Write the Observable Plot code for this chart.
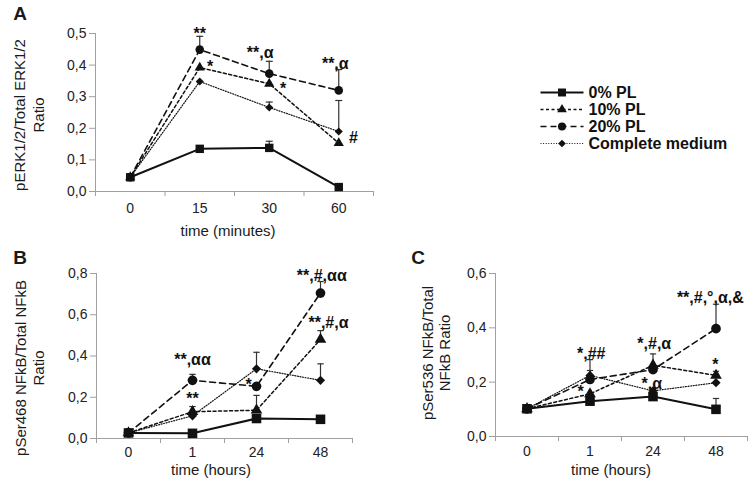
<!DOCTYPE html>
<html><head><meta charset="utf-8">
<script src="https://cdn.jsdelivr.net/npm/d3@7"></script>
<script src="https://cdn.jsdelivr.net/npm/@observablehq/plot@0.6"></script>
<style>
body{margin:0;background:#fff;}
#root{position:relative;width:755px;height:487px;overflow:hidden;font-family:"Liberation Sans",Arial,sans-serif;color:#1a1a1a;background:#fff;}
#root svg{position:absolute;left:0;top:0;}
.lbl{position:absolute;white-space:nowrap;transform:translate(-50%,-50%);font-size:15px;line-height:1;}
.rot{transform:translate(-50%,-50%) rotate(-90deg);}
.letter{position:absolute;font-weight:bold;font-size:19px;line-height:1;transform:translate(-50%,-50%);}
</style></head><body><div id="root"></div>
<script>
// ---------- data ----------
const seriesNames = ["0% PL", "10% PL", "20% PL", "Complete medium"];
const timesA = ["0", "15", "30", "60"];
const timesBC = ["0", "1", "24", "48"];

// Panel A: pERK1/2 / total ERK1/2
const a0  = [0.045, 0.135, 0.138, 0.014];
const a10 = [0.045, 0.392, 0.341, 0.153];
const a20 = [0.045, 0.449, 0.373, 0.320];
const aCM = [0.045, 0.348, 0.266, 0.190];
const a0Err  = [0, 0, 0.021, 0];
const a10Err = [0, 0, 0, 0];
const a20Err = [0, 0.042, 0.039, 0.066];
const aCMErr = [0, 0, 0.017, 0.098];

// Panel B: pSer468 NFkB / total NFkB
const b0  = [0.027, 0.025, 0.097, 0.093];
const b10 = [0.027, 0.130, 0.137, 0.480];
const b20 = [0.027, 0.282, 0.253, 0.705];
const bCM = [0.027, 0.110, 0.338, 0.282];
const b0Err  = [0, 0, 0, 0];
const b10Err = [0, 0.025, 0.072, 0.043];
const b20Err = [0, 0.029, 0, 0.056];
const bCMErr = [0, 0, 0.080, 0.080];

// Panel C: pSer536 NFkB / total NFkB
const c0  = [0.102, 0.130, 0.147, 0.100];
const c10 = [0.102, 0.157, 0.262, 0.225];
const c20 = [0.102, 0.210, 0.246, 0.397];
const cCM = [0.102, 0.225, 0.168, 0.198];
const c0Err  = [0, 0, 0, 0.040];
const c10Err = [0, 0, 0, 0.015];
const c20Err = [0, 0.073, 0.058, 0.090];
const cCMErr = [0, 0.018, 0, 0];

// significance annotations (category position, value, text)
const annoAx = [1.0, 1.15, 1.87, 2.2, 2.95, 3.21];
const annoAy = [0.50, 0.395, 0.44, 0.325, 0.405, 0.17];
const annoAt = ["**", "*", "**,α", "*", "**,α", "#"];

const annoBx = [1.0, 1.0, 1.875, 3.02, 3.125];
const annoBy = [0.38, 0.19, 0.262, 0.79, 0.562];
const annoBt = ["**,αα", "**", "*", "**,#,αα", "**,#,α"];

const annoCx = [2.91, 1.02, 2.02, 1.98, 2.99, 0.85];
const annoCy = [0.51, 0.305, 0.342, 0.192, 0.262, 0.165];
const annoCt = ["**,#,°,α,&", "*,##", "*,#,α", "*,α", "*", "*"];

// ---------- styles ----------
const diamondSym = {draw(ctx, size) {const s = Math.sqrt(size / 2); ctx.moveTo(0, -s); ctx.lineTo(s, 0); ctx.lineTo(0, s); ctx.lineTo(-s, 0); ctx.closePath();}};
const styles = [
  {symbol: "square", dash: null, width: 2, r: 5.0},
  {symbol: "triangle", dash: "3,2.5", width: 1.5, r: 4.0},
  {symbol: "circle", dash: "6,4", width: 1.6, r: 4.5},
  {symbol: diamondSym, dash: "1,1.6", width: 1.2, r: 3.4}
];
const fmt = d => d.toFixed(1).replace(".", ",");
const FONT = '"Liberation Sans", Arial, sans-serif';
const root = document.getElementById("root");

function panel({vals, errs, cats, yMax, yStep, m, annoX, annoY, annoT, k, tickPad}) {
  const rows = [];
  vals.forEach((arr, s) => arr.forEach((v, i) => rows.push({s, i, v, e: errs[s][i]})));
  const errRows = rows.filter(d => d.e > 0);
  const cw = 0.05;
  const marks = [
    Plot.ruleY([0], {stroke: "#a0a0a0"}),
    Plot.ruleX([-0.5], {stroke: "#a0a0a0"}),
    Plot.axisY(d3.range(0, yMax + 1e-9, yStep), {tickSize: 6, tickPadding: 3, tickFormat: fmt, stroke: "#a0a0a0", fill: "#222", label: null}),
    Plot.axisX([0, 1, 2, 3], {tickSize: 0, tickPadding: tickPad, tickFormat: i => cats[i], fill: "#222", label: null}),
    Plot.axisX([-0.5, 0.5, 1.5, 2.5, 3.5], {tickSize: 5, tickFormat: () => "", stroke: "#a0a0a0", label: null}),
    Plot.ruleX(errRows, {x: "i", y1: "v", y2: d => d.v + d.e, stroke: "#333", strokeWidth: 1.2}),
    Plot.link(errRows, {x1: d => d.i - cw, x2: d => d.i + cw, y1: d => d.v + d.e, y2: d => d.v + d.e, stroke: "#333", strokeWidth: 1.2})
  ];
  styles.forEach((st, s) => {
    const sr = rows.filter(d => d.s === s);
    marks.push(Plot.line(sr, {x: "i", y: "v", stroke: "#111", strokeWidth: st.width, strokeDasharray: st.dash || undefined}));
  });
  styles.forEach((st, s) => {
    const sr = rows.filter(d => d.s === s);
    marks.push(Plot.dot(sr, {x: "i", y: "v", symbol: st.symbol, fill: "#111", stroke: "none", r: st.r * k}));
  });
  marks.push(Plot.text(d3.range(annoT.length), {x: i => annoX[i], y: i => annoY[i], text: i => annoT[i], fontSize: 16, fontWeight: "bold", fill: "#111"}));
  const svg = Plot.plot({
    width: 755, height: 487,
    marginLeft: m[0], marginRight: m[1], marginTop: m[2], marginBottom: m[3],
    x: {domain: [-0.5, 3.5]},
    y: {domain: [0, yMax]},
    style: {background: "transparent", fontFamily: FONT, fontSize: "14px", color: "#222", overflow: "visible"},
    marks
  });
  root.appendChild(svg);
}

panel({vals: [a0, a10, a20, aCM], errs: [a0Err, a10Err, a20Err, aCMErr], cats: timesA, yMax: 0.5, yStep: 0.1,
  m: [95, 382, 33, 296], annoX: annoAx, annoY: annoAy, annoT: annoAt, k: 0.95, tickPad: 12});
panel({vals: [b0, b10, b20, bCM], errs: [b0Err, b10Err, b20Err, bCMErr], cats: timesBC, yMax: 0.8, yStep: 0.2,
  m: [96, 403, 273, 49], annoX: annoBx, annoY: annoBy, annoT: annoBt, k: 1.08, tickPad: 9});
panel({vals: [c0, c10, c20, cCM], errs: [c0Err, c10Err, c20Err, cCMErr], cats: timesBC, yMax: 0.6, yStep: 0.2,
  m: [495, 8, 273, 51], annoX: annoCx, annoY: annoCy, annoT: annoCt, k: 1.08, tickPad: 10});

// legend
{
  const marks = [];
  styles.forEach((st, s) => {
    const nm = [seriesNames[s]];
    marks.push(Plot.link(nm, {x1: 0, x2: 1, y1: d => d, y2: d => d, stroke: "#111", strokeWidth: st.width, strokeDasharray: st.dash || undefined}));
    marks.push(Plot.dot(nm, {x: 0.5, y: d => d, symbol: st.symbol, fill: "#111", stroke: "none", r: st.r * 0.9}));
  });
  marks.push(Plot.text(seriesNames, {x: 1, y: d => d, dx: 5, textAnchor: "start", fontSize: 16, fontWeight: "bold", fill: "#111"}));
  const svg = Plot.plot({
    width: 755, height: 487, margin: 0,
    x: {domain: [0, 1], range: [540, 583], axis: null},
    y: {type: "point", domain: seriesNames, range: [83, 152], axis: null},
    style: {background: "transparent", fontFamily: FONT, overflow: "visible"},
    marks
  });
  root.appendChild(svg);
}

// titles
function addDiv(cls, text, x, y) {
  const d = document.createElement("div");
  d.className = cls; d.textContent = text;
  d.style.left = x + "px"; d.style.top = y + "px";
  root.appendChild(d);
}
addDiv("letter", "A", 20, 13);
addDiv("letter", "B", 20, 257);
addDiv("letter", "C", 418, 257);
addDiv("lbl", "time (minutes)", 228, 230);
addDiv("lbl", "time (hours)", 211, 469);
addDiv("lbl", "time (hours)", 611, 469);
addDiv("lbl rot", "pERK1/2/Total ERK1/2", 19, 115);
addDiv("lbl rot", "Ratio", 38, 115);
addDiv("lbl rot", "pSer468 NFkB/Total NFkB", 20, 368);
addDiv("lbl rot", "Ratio", 38, 368);
addDiv("lbl rot", "pSer536 NFkB/Total", 427, 353);
addDiv("lbl rot", "NFkB Ratio", 444, 353);
</script></body></html>
